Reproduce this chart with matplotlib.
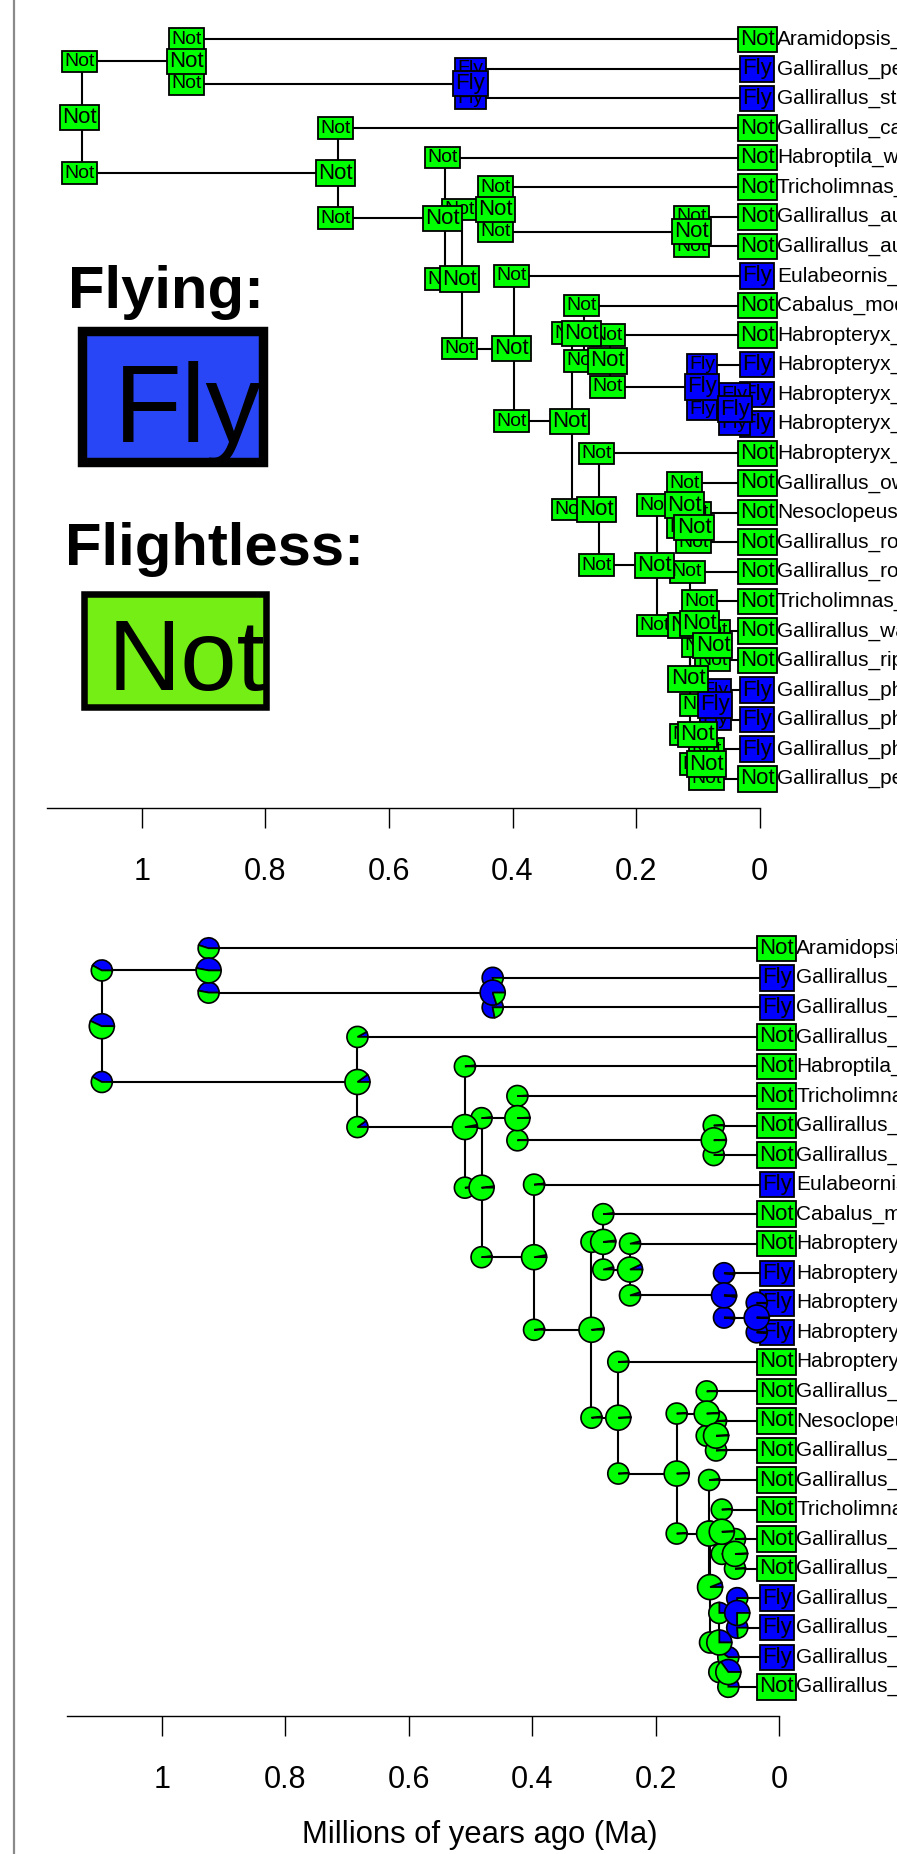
import matplotlib
matplotlib.use("Agg")
import matplotlib.pyplot as plt
from matplotlib.patches import Wedge, Rectangle
from matplotlib.transforms import Affine2D, ScaledTranslation

plt.rcParams["font.family"] = ["Liberation Sans", "DejaVu Sans"]

FLY = "#0000FF"
NOT = "#00FF00"

# tips, top to bottom
tip_names = ["Aramidopsis_plateni", "Gallirallus_pectoralis", "Gallirallus_striatus",
             "Gallirallus_calayanensis", "Habroptila_wallacii", "Tricholimnas_lafresnayanus",
             "Gallirallus_australis_australis", "Gallirallus_australis_greyi",
             "Eulabeornis_castaneoventris", "Cabalus_modestus", "Habropteryx_insignis",
             "Habropteryx_torquatus", "Habropteryx_sulcirostris", "Habropteryx_celebensis",
             "Habropteryx_okinawae", "Gallirallus_owstoni", "Nesoclopeus_woodfordi",
             "Gallirallus_rovianae", "Gallirallus_rovianae_2", "Tricholimnas_sylvestris",
             "Gallirallus_wakensis", "Gallirallus_ripleyi", "Gallirallus_philippensis_1",
             "Gallirallus_philippensis_2", "Gallirallus_philippensis_3",
             "Gallirallus_pendiculentus"]
tip_states = ["Not", "Fly", "Fly", "Not", "Not", "Not", "Not", "Not", "Fly", "Not",
              "Not", "Fly", "Fly", "Fly", "Not", "Not", "Not", "Not", "Not", "Not",
              "Not", "Not", "Fly", "Fly", "Fly", "Not"]

# internal nodes: upper child, lower child (ints = tip index), age (Ma)
node_names = ["root", "A", "B23", "R2", "B", "C", "D", "N78", "E", "F", "G", "H", "I",
              "J", "K", "L", "M", "N", "O", "P", "Q", "S", "R", "T", "U"]
node_upper = ["A", 0, 1, 3, 4, "D", 5, 6, 8, "G", 9, 10, 11, 12, 14, "M", 15, 16, 18,
              "Q", 19, 20, "T", 22, 24]
node_lower = ["R2", "B23", 2, "B", "C", "E", "N78", 7, "F", "K", "H", "I", "J", 13, "L",
              "O", "N", 17, "P", "R", "S", 21, "U", 23, 25]
node_ages = [1.097, 0.924, 0.464, 0.683, 0.509, 0.482, 0.424, 0.106, 0.397, 0.304,
             0.285, 0.2416, 0.0894, 0.0364, 0.2606, 0.166, 0.1174, 0.1023, 0.1135,
             0.112, 0.093, 0.0716, 0.097, 0.068, 0.0824]

# probability of "Fly" at node and at the start of the upper / lower branch
pfly_node = [0.43, 0.47, 0.80, 0.10, 0.03, 0.02, 0.01, 0.01, 0.03, 0.02, 0.02, 0.07,
             0.98, 0.99, 0.01, 0.01, 0.01, 0.01, 0.05, 0.06, 0.01, 0.01, 0.25, 0.75,
             0.35]
pfly_upper = [0.42, 0.45, 0.78, 0.08, 0.02, 0.02, 0.01, 0.01, 0.02, 0.02, 0.02, 0.04,
              0.98, 0.99, 0.01, 0.01, 0.01, 0.01, 0.02, 0.02, 0.01, 0.01, 0.25, 0.76,
              0.40]
pfly_lower = [0.42, 0.47, 0.78, 0.10, 0.02, 0.02, 0.01, 0.01, 0.02, 0.02, 0.04, 0.05,
              0.98, 0.99, 0.01, 0.01, 0.01, 0.01, 0.05, 0.20, 0.01, 0.01, 0.25, 0.76,
              0.25]

ticks = [1, 0.8, 0.6, 0.4, 0.2, 0]
tick_labels = ["1", "0.8", "0.6", "0.4", "0.2", "0"]


def pos(c):
    if isinstance(c, int):
        return 0.0, float(c)
    i = node_names.index(c)
    return node_ages[i], node_y[c]


node_y = {}
def layout(c):
    if isinstance(c, int):
        return float(c)
    i = node_names.index(c)
    node_y[c] = (layout(node_upper[i]) + layout(node_lower[i])) / 2
    return node_y[c]
layout("root")

fig = plt.figure(figsize=(8.97, 18.54), dpi=100)

# legend + frame line, pixel coordinates
ax0 = fig.add_axes([0, 0, 1, 1])
ax0.set_xlim(0, 897)
ax0.set_ylim(1854, 0)
ax0.axis("off")
ax0.axvline(14, color="#8a8a8a", lw=1.6)
ax0.text(68, 308, "Flying:", fontsize=43, fontweight="bold", ha="left", va="baseline")
ax0.text(65, 565, "Flightless:", fontsize=43, fontweight="bold", ha="left", va="baseline")
r1 = Rectangle((82, 331), 180.5, 130.5, fc="#2846F5", ec="black", lw=6.8)
ax0.add_patch(r1)
t1 = ax0.text(114, 441.7, "Fly", fontsize=80, ha="left", va="baseline")
t1.set_clip_path(r1)
r2 = Rectangle((84, 593.7), 182, 113.5, fc="#74EE14", ec="black", lw=4.7)
ax0.add_patch(r2)
t2 = ax0.text(108, 690, "Not", fontsize=73, ha="left", va="baseline")
t2.set_clip_path(r2)


def box(ax, x, y, state, size, pad, z):
    ax.annotate(state, (x, y), xytext=(-1.8, 0), textcoords="offset points",
                ha="center", va="center", fontsize=size, zorder=z,
                bbox=dict(boxstyle=f"square,pad={pad}", fc=FLY if state == "Fly" else NOT,
                          ec="black", lw=1.3))


def pie(ax, x, y, p, r, z):
    tr = Affine2D().scale(r / 100) + fig.dpi_scale_trans + ScaledTranslation(x, y, ax.transData)
    a = 360 * max(p, 0.004)
    ax.add_patch(Wedge((0, 0), 1, 0, a, fc=FLY, ec="black", lw=1.2, transform=tr, zorder=z))
    ax.add_patch(Wedge((0, 0), 1, a, 360, fc=NOT, ec="black", lw=1.2, transform=tr, zorder=z))


def draw_tree(ax):
    for i, n in enumerate(node_names):
        x = node_ages[i]
        ys = []
        for c in (node_upper[i], node_lower[i]):
            cx, cy = pos(c)
            ax.hlines(cy, x, cx, color="black", lw=1.5, zorder=1)
            ys.append(cy)
        ax.vlines(x, ys[0], ys[1], color="black", lw=1.5, zorder=1)
    for t, (name, st) in enumerate(zip(tip_names, tip_states)):
        box(ax, 0, t, st, 16, 0.1, 3)
        ax.annotate(name, (0, t), xytext=(12.3, 0), textcoords="offset points",
                    ha="left", va="center", fontsize=15)


def time_axis(ax):
    ax.patch.set_visible(False)
    for s in ["top", "left", "right"]:
        ax.spines[s].set_visible(False)
    ax.spines["bottom"].set_position(("data", 26.0))
    ax.spines["bottom"].set_bounds(1.153, 0)
    ax.spines["bottom"].set_linewidth(1.0)
    ax.set_yticks([])
    ax.set_xticks(ticks, tick_labels)
    ax.tick_params(axis="x", direction="out", length=14.4, width=1.0, pad=20.5,
                   labelsize=22)


# top panel: most probable state boxes
ax1 = fig.add_axes([0, 1 - 909 / 1854, 1, 909 / 1854])
ax1.set_xlim(759.7 / 618, (759.7 - 897) / 618)
ax1.set_ylim((909 - 39.3) / 29.58, -39.3 / 29.58)
draw_tree(ax1)
for i, n in enumerate(node_names):
    x = node_ages[i]
    for c, p in ((node_upper[i], pfly_upper[i]), (node_lower[i], pfly_lower[i])):
        box(ax1, x, pos(c)[1], "Fly" if p > 0.5 else "Not", 14, 0.12, 4)
for i, n in enumerate(node_names):
    box(ax1, node_ages[i], node_y[n], "Fly" if pfly_node[i] > 0.5 else "Not", 16, 0.1, 5)
time_axis(ax1)

# bottom panel: state probability pies
ax2 = fig.add_axes([0, 0, 1, 945 / 1854])
ax2.set_xlim(779.2 / 617.5, (779.2 - 897) / 617.5)
ax2.set_ylim((1854 - 948.3) / 29.54, (909 - 948.3) / 29.54)
draw_tree(ax2)
for i, n in enumerate(node_names):
    x = node_ages[i]
    for c, p in ((node_upper[i], pfly_upper[i]), (node_lower[i], pfly_lower[i])):
        pie(ax2, x, pos(c)[1], p, 10.5, 4)
for i, n in enumerate(node_names):
    pie(ax2, node_ages[i], node_y[n], pfly_node[i], 12.5, 5)
time_axis(ax2)
ax2.text(480 / 897, (1854 - 1843.3) / 945, "Millions of years ago (Ma)", fontsize=22.3,
         ha="center", va="baseline", transform=ax2.transAxes)

fig.savefig("out.png", dpi=100)
